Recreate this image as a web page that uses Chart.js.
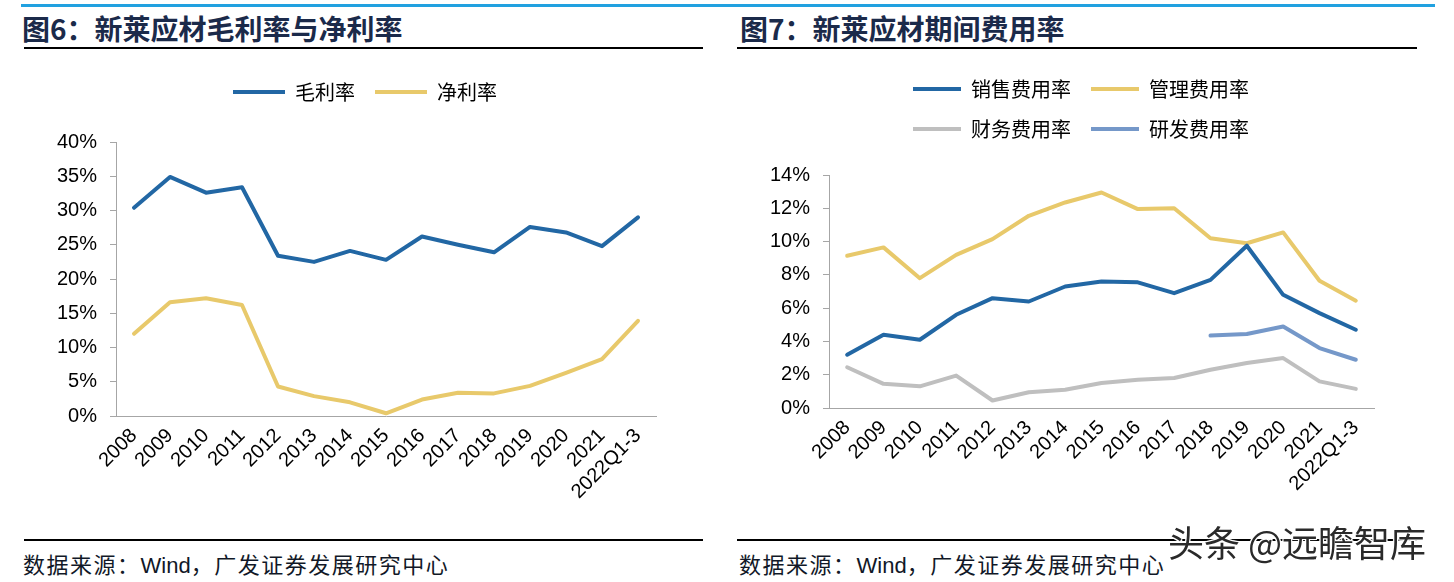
<!DOCTYPE html>
<html>
<head>
<meta charset="utf-8">
<script src="https://cdn.jsdelivr.net/npm/chart.js@4.4.1/dist/chart.umd.min.js"></script>
<style>
  html, body { margin: 0; padding: 0; background: #fff; }
  body { width: 1454px; height: 582px; position: relative; overflow: hidden; }
  .abs { position: absolute; }
  .topline { left: 21px; width: 1414px; top: 4px; height: 3px; background: #21a1e0; }
  .title { top: 11px; font-family: "Noto Sans CJK SC", sans-serif; font-weight: 700; font-size: 28px; line-height: 34px; color: #1b2a4a; white-space: nowrap; }
  .rule { height: 2px; background: #000; }
  .source { top: 548px; font-family: "Noto Sans CJK SC", sans-serif; font-size: 22px; line-height: 30px; color: #111827; white-space: nowrap; letter-spacing: 1.5px; }
  .source .lat { font-family: "Liberation Sans", Arial, sans-serif; letter-spacing: 0; }
  .wm { left: 1168px; top: 518px; font-family: "Noto Sans CJK SC", sans-serif; font-size: 36px; line-height: 46px; color: #2a2a2a; white-space: nowrap;
        text-shadow: 0 0 2px #fff, 0 0 2px #fff, 1px 1px 0 #fff, -1px -1px 0 #fff, 1px -1px 0 #fff, -1px 1px 0 #fff; }
  canvas { position: absolute; }
</style>
</head>
<body>
<div class="abs topline"></div>
<div class="abs title" style="left:22px;">图6：新莱应材毛利率与净利率</div>
<div class="abs title" style="left:740px;">图7：新莱应材期间费用率</div>
<div class="abs rule" style="left:24px; width:679px; top:47px;"></div>
<div class="abs rule" style="left:737px; width:680px; top:47px;"></div>

<canvas id="c1" width="730" height="470" style="left:0px; top:60px;"></canvas>
<canvas id="c2" width="727" height="470" style="left:727px; top:59px;"></canvas>

<div class="abs rule" style="left:24px; width:679px; top:539px;"></div>
<div class="abs rule" style="left:737px; width:680px; top:539px;"></div>
<div class="abs source" style="left:23px;">数据来源：<span class="lat">Wind</span>，广发证券发展研究中心</div>
<div class="abs source" style="left:739px;">数据来源：<span class="lat">Wind</span>，广发证券发展研究中心</div>
<div class="abs wm">头条 @远瞻智库</div>

<script>
// ---------- data ----------
const categories = ['2008','2009','2010','2011','2012','2013','2014','2015','2016','2017','2018','2019','2020','2021','2022Q1-3'];

// Figure 6 (%)
const grossMargin = [30.4, 34.9, 32.6, 33.4, 23.4, 22.5, 24.1, 22.8, 26.2, 25.0, 23.9, 27.6, 26.8, 24.8, 29.0];
const netMargin   = [12.0, 16.6, 17.2, 16.2, 4.3, 2.9, 2.0, 0.4, 2.4, 3.4, 3.3, 4.4, 6.3, 8.3, 13.9];

// Figure 7 (%)
const salesExp   = [3.2, 4.4, 4.1, 5.6, 6.6, 6.4, 7.3, 7.6, 7.55, 6.9, 7.7, 9.75, 6.8, 5.7, 4.7];
const adminExp   = [9.15, 9.65, 7.8, 9.2, 10.15, 11.55, 12.35, 12.95, 11.95, 12.0, 10.2, 9.9, 10.55, 7.65, 6.45];
const financeExp = [2.45, 1.45, 1.3, 1.95, 0.45, 0.95, 1.1, 1.5, 1.7, 1.8, 2.3, 2.7, 3.0, 1.6, 1.15];
const rdExp      = [null, null, null, null, null, null, null, null, null, null, 4.35, 4.45, 4.9, 3.6, 2.9];

const fig6Names = ['毛利率', '净利率'];
const fig7Names = ['销售费用率', '管理费用率', '财务费用率', '研发费用率'];
const fig6Ticks = { max: 40, step: 5 };
const fig7Ticks = { max: 14, step: 2 };

// ---------- styling ----------
const BLUE = '#2267a4', YELLOW = '#e8c96b', GRAY = '#bfbfbf', LBLUE = '#7598c9';
const AXIS = '#a6a6a6';
const tickFont = { family: '"Liberation Sans", Arial, sans-serif', size: 20 };

function ds(label, data, color) {
  return { label, data, borderColor: color, backgroundColor: color, borderWidth: 4,
           pointRadius: 0, pointHoverRadius: 0, tension: 0, fill: false, spanGaps: false,
           borderCapStyle: 'round', borderJoinStyle: 'round' };
}

function makeChart(id, datasets, ticks, cfg) {
  const legendPlugin = {
    id: 'legendTweak',
    beforeLayout(chart) {
      const lg = chart.legend;
      if (lg && !lg._tweaked) {
        lg._tweaked = true;
        const origFit = lg.fit;
        lg.fit = function () {
          const mw = this.maxWidth;
          this.maxWidth = Math.min(mw, cfg.legendWrap);
          origFit.call(this);
          this.maxWidth = mw;
          this.height += cfg.legendGap;
        };
      }
    },
    afterLayout(chart) {
      const lg = chart.legend;
      if (!lg) return;
      const w = Math.min(lg.right - lg.left, cfg.legendWrap);
      lg.left = cfg.legendCenter - w / 2;
      lg.right = lg.left + w;
      lg.width = w;
    }
  };
  return new Chart(document.getElementById(id), {
    type: 'line',
    data: { labels: categories, datasets },
    plugins: [legendPlugin],
    options: {
      responsive: false,
      animation: false,
      devicePixelRatio: 1,
      layout: { padding: cfg.padding },
      plugins: {
        tooltip: { enabled: false },
        title: { display: false },
        legend: {
          display: true,
          position: 'top',
          labels: {
            usePointStyle: true,
            pointStyle: 'line',
            pointStyleWidth: cfg.boxWidth,
            padding: 20,
            color: '#000',
            font: { family: '"Noto Sans CJK SC", sans-serif', size: 20 }
          }
        }
      },
      scales: {
        x: {
          type: 'category',
          offset: true,
          afterFit(scale) { scale.height = 100; },
          grid: { display: false, drawTicks: false },
          border: { display: true, color: AXIS, width: 1 },
          ticks: { autoSkip: false, maxRotation: 45, minRotation: 45, padding: 8, color: '#000', font: tickFont }
        },
        y: {
          min: 0, max: ticks.max,
          afterFit(scale) { scale.width = 61; },
          grid: { display: true, drawOnChartArea: false, drawTicks: true, tickLength: 6, color: AXIS },
          border: { display: true, color: AXIS, width: 1 },
          ticks: { stepSize: ticks.step, padding: 13, color: '#000', font: tickFont,
                   callback: v => v + '%' }
        }
      }
    }
  });
}

makeChart('c1', [
  ds(fig6Names[0], grossMargin, BLUE),
  ds(fig6Names[1], netMargin, YELLOW)
], fig6Ticks, { padding: { left: 55, right: 74, top: 2, bottom: 14 }, legendGap: 30, boxWidth: 52, legendWrap: 700, legendCenter: 365 });

makeChart('c2', [
  ds(fig7Names[0], salesExp, BLUE),
  ds(fig7Names[1], adminExp, YELLOW),
  ds(fig7Names[2], financeExp, GRAY),
  ds(fig7Names[3], rdExp, LBLUE)
], fig7Ticks, { padding: { left: 41, right: 80, top: 0, bottom: 21 }, legendGap: 26, boxWidth: 48, legendWrap: 450, legendCenter: 354 });
</script>
</body>
</html>
